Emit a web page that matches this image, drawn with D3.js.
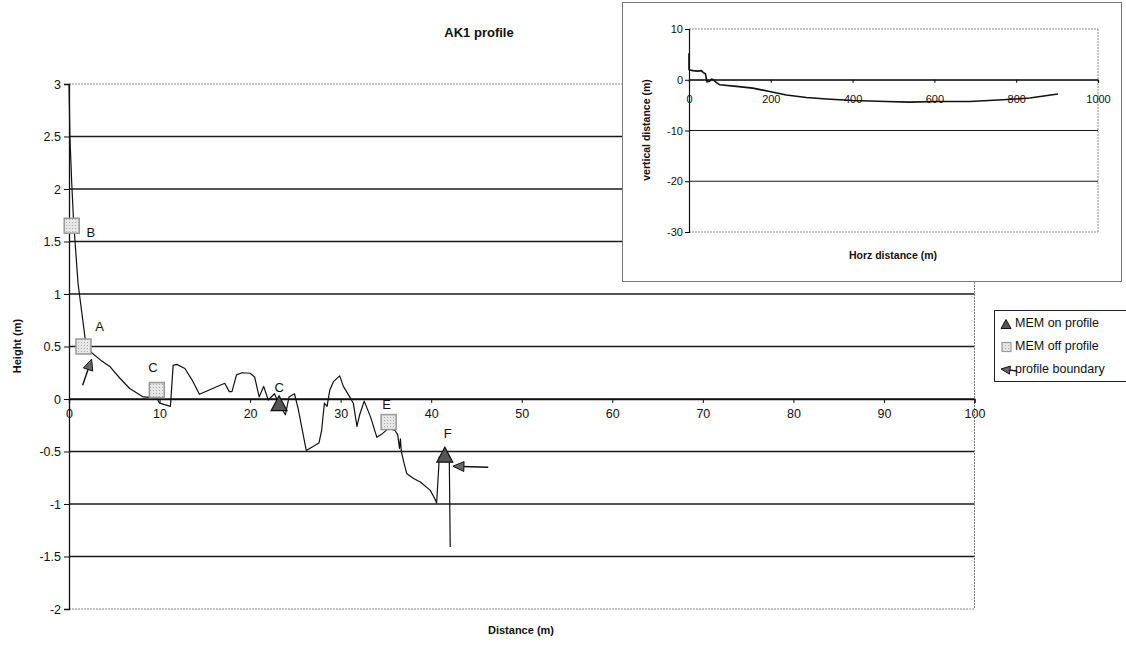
<!DOCTYPE html>
<html>
<head>
<meta charset="utf-8">
<script src="https://cdn.jsdelivr.net/npm/d3@7/dist/d3.min.js"></script>
<style>
  html, body { margin: 0; padding: 0; background: #fff; }
  svg { display: block; font-family: "Liberation Sans", Arial, sans-serif; }
</style>
</head>
<body>
<svg id="chart" width="1126" height="645"></svg>
<script>
// ---------------- data ----------------
const profileX = [0, 0.1, 0.3, 0.5, 1.0, 1.88, 2.5, 3.5, 4.5, 5.6, 6.7, 8.2, 9.7, 10.0, 11.2, 11.5, 11.9, 12.8, 13.6, 14.4, 17.2, 17.7, 18.0, 18.5, 19.1, 20.0, 20.5, 21.0, 21.5, 22.0, 22.7, 23.2, 23.9, 24.3, 24.9, 25.3, 26.2, 27.0, 27.6, 27.9, 28.2, 28.5, 28.8, 29.2, 29.9, 30.3, 31.0, 31.4, 31.8, 32.1, 32.6, 33.3, 34.0, 34.6, 35.3, 36.0, 36.3, 36.5, 36.6, 36.7, 37.0, 37.3, 38.0, 38.8, 39.9, 40.4, 40.6, 40.9, 41.5, 42.0, 42.1];
const profileY = [3.0, 2.5, 2.06, 1.7, 1.1, 0.51, 0.44, 0.37, 0.31, 0.2, 0.1, 0.02, 0.01, -0.04, -0.07, 0.32, 0.33, 0.29, 0.18, 0.045, 0.15, 0.07, 0.07, 0.23, 0.25, 0.245, 0.21, 0.02, 0.12, -0.01, 0.05, -0.05, -0.15, 0.02, 0.05, -0.09, -0.49, -0.45, -0.42, -0.3, -0.04, -0.07, 0.085, 0.165, 0.22, 0.12, 0.02, -0.04, -0.26, -0.15, -0.02, -0.17, -0.365, -0.33, -0.28, -0.3, -0.34, -0.47, -0.38, -0.5, -0.61, -0.71, -0.755, -0.79, -0.87, -0.95, -0.99, -0.55, -0.53, -0.58, -1.41];

const offX = [0.3, 1.6, 9.7, 35.3];
const offY = [1.65, 0.5, 0.085, -0.22];
const offLabels = ["B", "A", "C", "E"];

const onX = [23.2, 41.5];
const onY = [-0.04, -0.53];
const onLabels = ["C", "F"];

// profile boundary arrows: tail -> tip
const arrowTailX = [1.5, 46.3];
const arrowTailY = [0.13, -0.65];
const arrowTipX = [2.5, 42.4];
const arrowTipY = [0.38, -0.64];

const xTicks = [0, 10, 20, 30, 40, 50, 60, 70, 80, 90, 100];
const yTicks = [3, 2.5, 2, 1.5, 1, 0.5, 0, -0.5, -1, -1.5, -2];

const legendLabels = ["MEM on profile", "MEM off profile", "profile boundary"];

const insetX = [0, 0, 2, 10, 20, 30, 35, 40, 44, 50, 55, 60, 65, 75, 116, 156, 197, 238, 287, 336, 401, 482, 540, 604, 686, 768, 833, 902];
const insetY = [5.2, 2.0, 1.9, 1.8, 1.7, 1.8, 1.4, 1.2, -0.4, -0.3, 0.1, 0.0, -0.4, -1.0, -1.3, -1.65, -2.3, -3.0, -3.5, -3.8, -4.1, -4.3, -4.4, -4.3, -4.3, -3.95, -3.6, -2.8];
const insetXTicks = [0, 200, 400, 600, 800, 1000];
const insetYTicks = [10, 0, -10, -20, -30];

// ---------------- main chart ----------------
const svg = d3.select("#chart");
const x = d3.scaleLinear().domain([0, 100]).range([69, 974.5]);
const y = d3.scaleLinear().domain([-2, 3]).range([609, 84]);

const g = svg.append("g");

// gridlines
g.selectAll("line.grid").data(yTicks).enter().append("line")
  .attr("x1", x(0)).attr("x2", x(100))
  .attr("y1", d => y(d)).attr("y2", d => y(d))
  .attr("stroke", d => (d === 3 || d === -2) ? "#888" : "#1a1a1a")
  .attr("stroke-width", d => (d === 3 || d === -2) ? 1 : 1.3)
  .attr("stroke-dasharray", d => (d === 3 || d === -2) ? "2,1" : null);

// right border
g.append("line").attr("x1", x(100)).attr("x2", x(100)).attr("y1", y(3)).attr("y2", y(-2))
  .attr("stroke", "#777").attr("stroke-dasharray", "2,1");

// y axis
const yAxis = d3.axisLeft(y).tickValues(yTicks).tickSize(5).tickFormat(d => d);
const ya = g.append("g").attr("transform", `translate(${x(0)},0)`).call(yAxis);
ya.select(".domain").attr("stroke", "#111").attr("stroke-width", 1.3);
ya.selectAll(".tick line").attr("stroke", "#111");
ya.selectAll(".tick text").attr("font-size", 12.5).attr("fill", "#111")
  .attr("font-family", "Liberation Sans, Arial, sans-serif").attr("x", -8);

// x axis at y=0
const xAxis = d3.axisBottom(x).tickValues(xTicks).tickSize(4).tickFormat(d => d);
const xa = g.append("g").attr("transform", `translate(0,${y(0)})`).call(xAxis);
xa.select(".domain").attr("stroke", "#111").attr("stroke-width", 1.3);
xa.selectAll(".tick line").attr("stroke", "#111");
xa.selectAll(".tick text").attr("font-size", 12.5).attr("fill", "#111")
  .attr("font-family", "Liberation Sans, Arial, sans-serif").attr("dy", "1.0em").attr("y", 6);

// profile line
const line = d3.line().x(d => x(d[0])).y(d => y(d[1]));
g.append("path").datum(d3.zip(profileX, profileY))
  .attr("d", line).attr("fill", "none").attr("stroke", "#111").attr("stroke-width", 1.2)
  .attr("stroke-linejoin", "round");

// pattern for squares
const defs = svg.append("defs");
const pat = defs.append("pattern").attr("id", "dots").attr("width", 3).attr("height", 3)
  .attr("patternUnits", "userSpaceOnUse");
pat.append("rect").attr("width", 3).attr("height", 3).attr("fill", "#e6e6e6");
pat.append("rect").attr("width", 1).attr("height", 1).attr("fill", "#aaa");

// off-profile squares
const sq = 15;
g.selectAll("rect.off").data(d3.zip(offX, offY)).enter().append("rect")
  .attr("x", d => x(d[0]) - sq / 2).attr("y", d => y(d[1]) - sq / 2)
  .attr("width", sq).attr("height", sq)
  .attr("fill", "url(#dots)").attr("stroke", "#999").attr("stroke-width", 1.5);

// on-profile triangles
const tri = (cx, cy, w, h) => `M${cx},${cy - h / 2}L${cx + w / 2},${cy + h / 2}L${cx - w / 2},${cy + h / 2}Z`;
g.selectAll("path.on").data(d3.zip(onX, onY)).enter().append("path")
  .attr("d", d => tri(x(d[0]), y(d[1]), 16, 15))
  .attr("fill", "#555").attr("stroke", "#111").attr("stroke-width", 1.2);

// labels
const offLabelDx = [19, 16, -4, -2];
const offLabelDy = [8, -19, -22, -17];
g.selectAll("text.offl").data(offLabels).enter().append("text")
  .attr("x", (d, i) => x(offX[i]) + offLabelDx[i]).attr("y", (d, i) => y(offY[i]) + offLabelDy[i])
  .attr("font-size", 13).attr("fill", "#111").attr("text-anchor", "middle")
  .attr("dominant-baseline", "middle").text(d => d);
const onLabelDx = [0, 3];
const onLabelDy = [-15, -20];
g.selectAll("text.onl").data(onLabels).enter().append("text")
  .attr("x", (d, i) => x(onX[i]) + onLabelDx[i]).attr("y", (d, i) => y(onY[i]) + onLabelDy[i])
  .attr("font-size", 13).attr("fill", "#111").attr("text-anchor", "middle")
  .attr("dominant-baseline", "middle").text(d => d);

// arrows
function arrow(sel, x1, y1, x2, y2, size) {
  const ang = Math.atan2(y2 - y1, x2 - x1);
  sel.append("line").attr("x1", x1).attr("y1", y1)
    .attr("x2", x2 - Math.cos(ang) * size * 0.8).attr("y2", y2 - Math.sin(ang) * size * 0.8)
    .attr("stroke", "#111").attr("stroke-width", 1.4);
  const p1 = [x2, y2];
  const bx = x2 - Math.cos(ang) * size, by = y2 - Math.sin(ang) * size;
  const px = -Math.sin(ang) * size * 0.45, py = Math.cos(ang) * size * 0.45;
  sel.append("path").attr("d", `M${p1[0]},${p1[1]}L${bx + px},${by + py}L${bx - px},${by - py}Z`)
    .attr("fill", "#666").attr("stroke", "#111").attr("stroke-width", 1);
}
for (let i = 0; i < arrowTipX.length; i++) {
  arrow(g, x(arrowTailX[i]), y(arrowTailY[i]), x(arrowTipX[i]), y(arrowTipY[i]), 11);
}

// titles
svg.append("text").attr("x", 479).attr("y", 37).attr("text-anchor", "middle")
  .attr("font-size", 13).attr("font-weight", "bold").attr("fill", "#111").text("AK1 profile");
svg.append("text").attr("x", 521).attr("y", 634).attr("text-anchor", "middle")
  .attr("font-size", 11).attr("font-weight", "bold").attr("fill", "#111").text("Distance (m)");
svg.append("text").attr("transform", "translate(21,346) rotate(-90)").attr("text-anchor", "middle")
  .attr("font-size", 11).attr("font-weight", "bold").attr("fill", "#111").text("Height (m)");

// legend
const lg = svg.append("g");
lg.append("rect").attr("x", 994.5).attr("y", 310.5).attr("width", 140).attr("height", 71)
  .attr("fill", "#fff").attr("stroke", "#222").attr("stroke-width", 1);
const rowsY = [324, 347, 370];
lg.append("path").attr("d", tri(1006, rowsY[0], 10, 9)).attr("fill", "#555").attr("stroke", "#111");
lg.append("rect").attr("x", 1002).attr("y", rowsY[1] - 4.5).attr("width", 9).attr("height", 9)
  .attr("fill", "url(#dots)").attr("stroke", "#999").attr("stroke-width", 1.2);
arrow(lg, 1017, rowsY[2] + 1, 1001, rowsY[2] - 1, 9);
lg.selectAll("text.lt").data(legendLabels).enter().append("text")
  .attr("x", 1015).attr("y", (d, i) => rowsY[i]).attr("dominant-baseline", "middle")
  .attr("font-size", 12.5).attr("fill", "#111").text(d => d);

// ---------------- inset chart ----------------
const ig = svg.append("g");
ig.append("rect").attr("x", 622.5).attr("y", 2.5).attr("width", 499).attr("height", 279)
  .attr("fill", "#fff").attr("stroke", "#777").attr("stroke-width", 1);
const ix = d3.scaleLinear().domain([0, 1000]).range([689, 1098]);
const iy = d3.scaleLinear().domain([-30, 10]).range([232, 29]);

ig.selectAll("line.ig").data(insetYTicks).enter().append("line")
  .attr("x1", ix(0)).attr("x2", ix(1000)).attr("y1", d => iy(d)).attr("y2", d => iy(d))
  .attr("stroke", d => (d === 10 || d === -30) ? "#888" : "#1a1a1a")
  .attr("stroke-width", d => (d === 10 || d === -30) ? 1 : 1.2)
  .attr("stroke-dasharray", d => (d === 10 || d === -30) ? "2,1" : null);
ig.append("line").attr("x1", ix(1000)).attr("x2", ix(1000)).attr("y1", iy(10)).attr("y2", iy(-30))
  .attr("stroke", "#888").attr("stroke-dasharray", "2,1");

const iyAxis = d3.axisLeft(iy).tickValues(insetYTicks).tickSize(4).tickFormat(d => d);
const iya = ig.append("g").attr("transform", `translate(${ix(0)},0)`).call(iyAxis);
iya.select(".domain").attr("stroke", "#111").attr("stroke-width", 1.2);
iya.selectAll(".tick text").attr("font-size", 11).attr("fill", "#111")
  .attr("font-family", "Liberation Sans, Arial, sans-serif").attr("x", -6);

const ixAxis = d3.axisBottom(ix).tickValues(insetXTicks).tickSize(3).tickFormat(d => d);
const ixa = ig.append("g").attr("transform", `translate(0,${iy(0)})`).call(ixAxis);
ixa.select(".domain").attr("stroke", "#111").attr("stroke-width", 1.2);
ixa.selectAll(".tick text").attr("font-size", 11).attr("fill", "#111")
  .attr("font-family", "Liberation Sans, Arial, sans-serif").attr("y", 15);

const iline = d3.line().x(d => ix(d[0])).y(d => iy(d[1]));
ig.append("path").datum(d3.zip(insetX, insetY)).attr("d", iline)
  .attr("fill", "none").attr("stroke", "#111").attr("stroke-width", 1.6);

ig.append("text").attr("x", 893).attr("y", 259).attr("text-anchor", "middle")
  .attr("font-size", 10.5).attr("font-weight", "bold").attr("fill", "#111").text("Horz distance (m)");
ig.append("text").attr("transform", "translate(650,130) rotate(-90)").attr("text-anchor", "middle")
  .attr("font-size", 10.5).attr("font-weight", "bold").attr("fill", "#111").text("vertical distance (m)");
</script>
</body>
</html>
